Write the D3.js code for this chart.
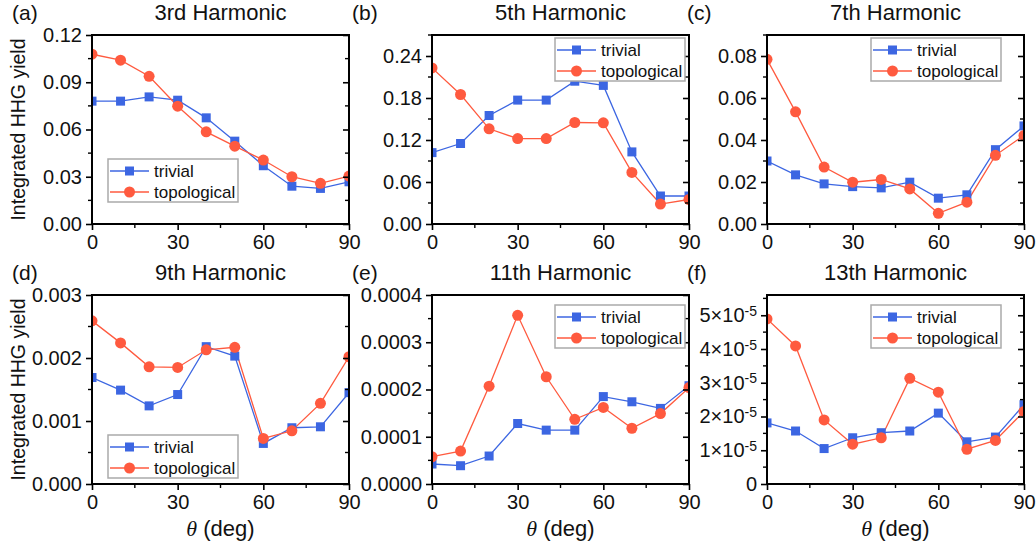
<!DOCTYPE html>
<html>
<head>
<meta charset="utf-8">
<script src="https://cdn.jsdelivr.net/npm/d3@7"></script>
<style>
  body { margin: 0; background: #fff; }
  svg { display: block; }
  text { font-family: "Liberation Sans", Arial, sans-serif; fill: #111; }
</style>
</head>
<body>
<svg id="chart" width="1036" height="545"></svg>
<script>
// angle (deg)
const theta = [0, 10, 20, 30, 40, 50, 60, 70, 80, 90]

// integrated HHG yield
const trivial3 = [0.078, 0.078, 0.0807, 0.0786, 0.0674, 0.0526, 0.037, 0.024, 0.0226, 0.0268]
const topo3 = [0.1078, 0.104, 0.0938, 0.0748, 0.0585, 0.0494, 0.0406, 0.030, 0.0258, 0.0304]
const trivial5 = [0.102, 0.115, 0.155, 0.177, 0.177, 0.204, 0.198, 0.103, 0.040, 0.040]
const topo5 = [0.223, 0.185, 0.136, 0.122, 0.122, 0.145, 0.1445, 0.0737, 0.0285, 0.035]
const trivial7 = [0.030, 0.0234, 0.0191, 0.0178, 0.0172, 0.0199, 0.0123, 0.0139, 0.0354, 0.0467]
const topo7 = [0.0784, 0.0534, 0.0271, 0.0199, 0.0212, 0.0167, 0.0051, 0.0104, 0.0327, 0.0422]
const trivial9 = [0.00169, 0.00149, 0.00124, 0.00142, 0.00218, 0.00203, 0.000644, 0.000893, 0.000908, 0.00145]
const topo9 = [0.00259, 0.00224, 0.00186, 0.00185, 0.00213, 0.00217, 0.000724, 0.000845, 0.00128, 0.00202]
const trivial11 = [0.0000423, 0.0000387, 0.0000592, 0.000128, 0.000114, 0.000114, 0.000185, 0.000174, 0.00016, 0.000208]
const topo11 = [0.0000577, 0.0000697, 0.000207, 0.000357, 0.000227, 0.000137, 0.000162, 0.000118, 0.000149, 0.000204]
const trivial13 = [1.81e-5, 1.57e-5, 1.05e-5, 1.37e-5, 1.52e-5, 1.57e-5, 2.10e-5, 1.25e-5, 1.39e-5, 2.35e-5]
const topo13 = [4.89e-5, 4.09e-5, 1.90e-5, 1.18e-5, 1.37e-5, 3.13e-5, 2.72e-5, 1.03e-5, 1.29e-5, 2.15e-5]

const tags = ["(a)", "(b)", "(c)", "(d)", "(e)", "(f)"]
const titles = ["3rd Harmonic", "5th Harmonic", "7th Harmonic", "9th Harmonic", "11th Harmonic", "13th Harmonic"]
const seriesNames = ["trivial", "topological"]
const xTicks = [0, 30, 60, 90]
const xMinor = [15, 45, 75]
const yMax = [0.12, 0.27, 0.09, 0.003, 0.0004, 5.6e-5]
const yTicks = [
	[0, 0.03, 0.06, 0.09, 0.12],
	[0, 0.06, 0.12, 0.18, 0.24],
	[0, 0.02, 0.04, 0.06, 0.08],
	[0, 0.001, 0.002, 0.003],
	[0, 0.0001, 0.0002, 0.0003, 0.0004],
	[0, 1e-5, 2e-5, 3e-5, 4e-5, 5e-5]
]
const yFormats = [".2f", ".2f", ".2f", ".3f", ".4f", "sci"]
const trivialData = [trivial3, trivial5, trivial7, trivial9, trivial11, trivial13]
const topoData = [topo3, topo5, topo7, topo9, topo11, topo13]

const blue = "#3c66e2"
const red = "#ff5a3f"

// layout
const cols = [92, 432, 767]
const rows = [35, 295]
const pw = 257, ph = 189
// legend offsets inside each plot
const legendPos = [[16, 124], [123, 3], [104, 3], [16, 140], [123, 10], [104, 10]]

const svg = d3.select("#chart")

for (var i = 0; i < 6; i++) {
	const ox = cols[i % 3], oy = rows[Math.floor(i / 3)]
	const g = svg.append("g").attr("transform", `translate(${ox},${oy})`)

	const x = d3.scaleLinear().domain([0, 90]).range([0, pw])
	const y = d3.scaleLinear().domain([0, yMax[i]]).range([ph, 0])

	const clipId = "clip" + i
	g.append("clipPath").attr("id", clipId)
		.append("rect").attr("width", pw).attr("height", ph)

	const plot = g.append("g").attr("clip-path", `url(#${clipId})`)
	const line = d3.line().x((d, k) => x(theta[k])).y(d => y(d))

	// trivial: blue squares, topological: red circles
	plot.append("path").datum(trivialData[i])
		.attr("d", line).attr("fill", "none")
		.attr("stroke", blue).attr("stroke-width", 1.3)
	plot.append("path").datum(topoData[i])
		.attr("d", line).attr("fill", "none")
		.attr("stroke", red).attr("stroke-width", 1.3)

	plot.selectAll(".sq").data(trivialData[i]).enter()
		.append("rect")
		.attr("x", (d, k) => x(theta[k]) - 4.5)
		.attr("y", d => y(d) - 4.5)
		.attr("width", 9).attr("height", 9)
		.attr("fill", blue)
	plot.selectAll(".ci").data(topoData[i]).enter()
		.append("circle")
		.attr("cx", (d, k) => x(theta[k]))
		.attr("cy", d => y(d))
		.attr("r", 5.5)
		.attr("fill", red)

	// axes
	const fmt = yFormats[i] == "sci" ? null : d3.format(yFormats[i])
	const bottom = g.append("g").attr("transform", `translate(0,${ph})`)
		.call(d3.axisBottom(x).tickValues(xTicks).tickSize(6).tickPadding(5).tickFormat(d3.format("d")))
	const left = g.append("g")
		.call(d3.axisLeft(y).tickValues(yTicks[i]).tickSize(6).tickPadding(4)
			.tickFormat(fmt ? fmt : (d => d == 0 ? "0" : "")))
	const right = g.append("g").attr("transform", `translate(${pw},0)`)
		.call(d3.axisLeft(y).tickValues(yTicks[i]).tickSize(6).tickFormat(""))

	;[bottom, left, right].forEach(a => {
		a.select(".domain").remove()
		a.selectAll(".tick line").attr("stroke", "#000").attr("stroke-width", 1.6)
		a.selectAll(".tick text").style("font-size", "20px").attr("fill", "#111")
			.style("font-family", '"Liberation Sans", Arial, sans-serif')
	})

	// scientific labels for the 13th harmonic
	if (yFormats[i] == "sci") {
		left.selectAll(".tick").each(function(d) {
			if (d == 0) return
			const t = d3.select(this).select("text")
			const m = Math.round(d / 1e-5)
			t.text(null)
			t.append("tspan").text(m + "×10")
			t.append("tspan").attr("dy", "-0.45em").style("font-size", "14px").text("-5")
		})
	}

	// minor ticks
	const step = yTicks[i][1] - yTicks[i][0]
	const yMinor = d3.range(step / 2, yMax[i] + 1e-12, step)
	g.selectAll(".mx").data(xMinor).enter().append("line")
		.attr("x1", d => x(d)).attr("x2", d => x(d))
		.attr("y1", ph).attr("y2", ph + 4)
		.attr("stroke", "#000").attr("stroke-width", 1.4)
	g.selectAll(".myl").data(yMinor).enter().append("line")
		.attr("x1", -4).attr("x2", 0)
		.attr("y1", d => y(d)).attr("y2", d => y(d))
		.attr("stroke", "#000").attr("stroke-width", 1.4)
	g.selectAll(".myr").data(yMinor).enter().append("line")
		.attr("x1", pw - 4).attr("x2", pw)
		.attr("y1", d => y(d)).attr("y2", d => y(d))
		.attr("stroke", "#000").attr("stroke-width", 1.4)

	// frame
	g.append("rect").attr("width", pw).attr("height", ph)
		.attr("fill", "none").attr("stroke", "#000").attr("stroke-width", 2)

	// legend
	const lg = g.append("g").attr("transform", `translate(${legendPos[i][0]},${legendPos[i][1]})`)
	lg.append("rect").attr("width", 130).attr("height", 43)
		.attr("fill", "#fff").attr("stroke", "#aaa").attr("stroke-width", 1.5)
	seriesNames.forEach((name, k) => {
		const ly = 12 + k * 21
		const col = k == 0 ? blue : red
		lg.append("line").attr("x1", 2).attr("x2", 41).attr("y1", ly).attr("y2", ly)
			.attr("stroke", col).attr("stroke-width", 1.3)
		if (k == 0) {
			lg.append("rect").attr("x", 17).attr("y", ly - 4.5).attr("width", 9).attr("height", 9).attr("fill", col)
		} else {
			lg.append("circle").attr("cx", 21.5).attr("cy", ly).attr("r", 5.5).attr("fill", col)
		}
		lg.append("text").attr("x", 46).attr("y", ly + 6)
			.style("font-size", "17px").text(name)
	})

	// title and tag
	g.append("text").attr("x", pw / 2).attr("y", -15)
		.attr("text-anchor", "middle").style("font-size", "22px").text(titles[i])
	g.append("text").attr("x", -80).attr("y", -15)
		.style("font-size", "21px").text(tags[i])

	// axis labels
	if (i % 3 == 0) {
		g.append("text")
			.attr("transform", `translate(-67,${ph / 2}) rotate(-90)`)
			.attr("text-anchor", "middle").style("font-size", "19.5px")
			.text("Integrated HHG yield")
	}
	if (i >= 3) {
		const xl = g.append("text").attr("x", pw / 2).attr("y", ph + 52)
			.attr("text-anchor", "middle").style("font-size", "22px")
		xl.append("tspan").style("font-family", '"Liberation Serif", "DejaVu Serif", serif')
			.style("font-style", "italic").text("θ")
		xl.append("tspan").text(" (deg)")
	}
}
</script>
</body>
</html>
